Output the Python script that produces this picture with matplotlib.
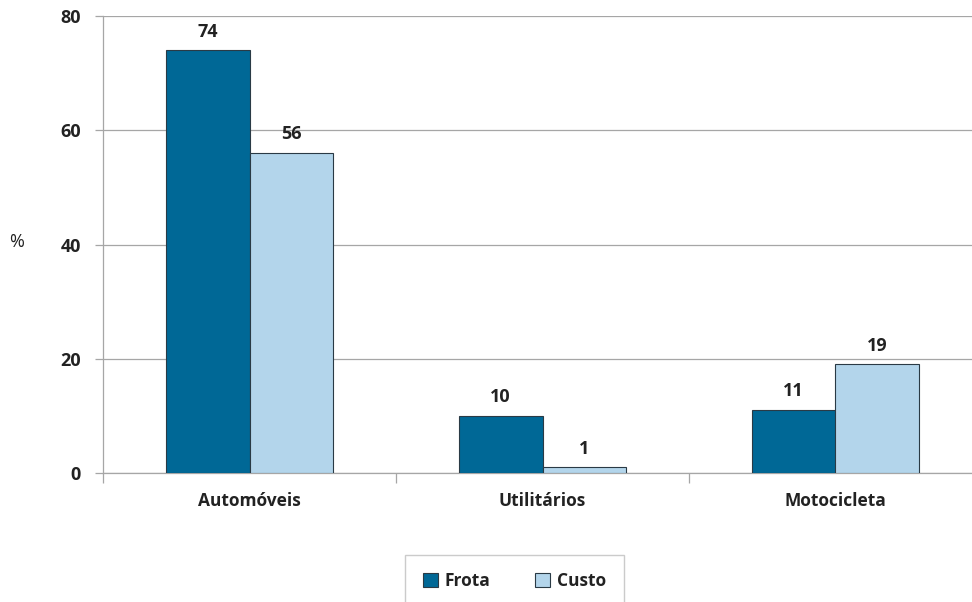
import matplotlib
matplotlib.use("Agg")
import matplotlib.pyplot as plt
import numpy as np
from matplotlib.patches import Patch

categories = ["Automóveis", "Utilitários", "Motocicleta"]
frota = [74, 10, 11]
custo = [56, 1, 19]
series_names = ["Frota", "Custo"]
yticks = [0, 20, 40, 60, 80]

plt.rcParams['font.family'] = ['Open Sans', 'DejaVu Sans']

fig = plt.figure(figsize=(9.72, 6.02), dpi=100)
W, H = 972, 602
ax = fig.add_axes([103 / W, (H - 473) / H, (972 - 103) / W, (473 - 16) / H])

c_frota = "#006896"
c_custo = "#b3d5eb"
edge = "#2a3a45"
grid_c = "#a6a6a6"

x = np.arange(len(categories))
bw = 0.286
b1 = ax.bar(x - bw / 2, frota, bw, color=c_frota, edgecolor=edge, linewidth=0.8, zorder=3)
b2 = ax.bar(x + bw / 2, custo, bw, color=c_custo, edgecolor=edge, linewidth=0.8, zorder=3)

for bars, vals in ((b1, frota), (b2, custo)):
    for r, v in zip(bars, vals):
        ax.annotate(str(v), (r.get_x() + r.get_width() / 2, r.get_height()),
                    xytext=(0, 7), textcoords="offset points", ha="center", va="bottom",
                    fontsize=13, fontweight="bold", color="#222222")

ax.set_xlim(-0.5, -0.5 + 869 / 293)
ax.set_ylim(0, 80)
ax.set_yticks(yticks)
ax.set_yticklabels([str(t) for t in yticks], fontsize=13, fontweight="bold", color="#222222")
ax.yaxis.grid(True, color=grid_c, linewidth=0.9, zorder=0)
ax.set_axisbelow(True)

ax.set_xticks(x)
ax.set_xticklabels(categories, fontsize=12.5, fontweight="bold", color="#222222")
ax.tick_params(axis="x", which="major", length=0, pad=14)
ax.set_xticks([-0.5, 0.5, 1.5], minor=True)
ax.tick_params(axis="x", which="minor", length=7, color=grid_c, width=0.9)
ax.tick_params(axis="y", length=6, color=grid_c, width=0.9, pad=10)

for s in ("top", "right"):
    ax.spines[s].set_visible(False)
for s in ("left", "bottom"):
    ax.spines[s].set_color(grid_c)
    ax.spines[s].set_linewidth(0.9)

fig.text(17 / W, 1 - 242 / H, "%", fontsize=13, ha="center", va="center", color="#222222")

handles = [Patch(facecolor=c_frota, edgecolor=edge, linewidth=0.8),
           Patch(facecolor=c_custo, edgecolor=edge, linewidth=0.8)]
leg = fig.legend(handles, series_names, loc="upper center", bbox_to_anchor=(514.5 / W, 1 - 555 / H),
                 ncol=2, frameon=True, fancybox=False, edgecolor="#bfbfbf",
                 prop={'size': 12.5, 'weight': 'bold'}, handlelength=0.85, handleheight=0.85,
                 handletextpad=0.4, columnspacing=2.6, borderpad=1.0, borderaxespad=0)
leg.get_frame().set_linewidth(1.0)
for t in leg.get_texts():
    t.set_color("#222222")

fig.savefig("out.png", dpi=100)
